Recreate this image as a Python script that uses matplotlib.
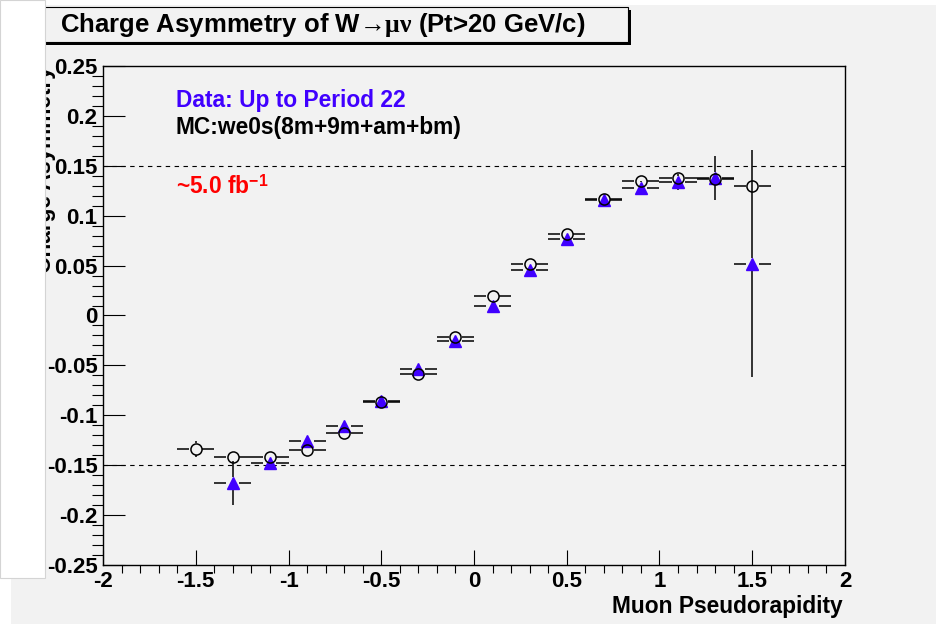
import numpy as np
import matplotlib
matplotlib.use("Agg")
import matplotlib.pyplot as plt
import matplotlib.ticker as mticker
from matplotlib.patches import Rectangle

plt.rcParams["font.family"] = ["Liberation Sans", "DejaVu Sans"]
plt.rcParams["font.weight"] = "bold"
plt.rcParams["mathtext.fontset"] = "custom"
plt.rcParams["mathtext.rm"] = "Liberation Sans:bold"
plt.rcParams["mathtext.bf"] = "Liberation Sans:bold"
plt.rcParams["mathtext.it"] = "Liberation Serif"
plt.rcParams["mathtext.sf"] = "Liberation Serif"

BG    = "#f2f2f2"
BLUE  = "#4000ff"
W, H  = 936, 625

# ── data ────────────────────────────────────────────────────────────────
eta      = [-1.5, -1.3, -1.1, -0.9, -0.7, -0.5, -0.3, -0.1,
            0.1, 0.3, 0.5, 0.7, 0.9, 1.1, 1.3, 1.5]
mc_asym  = [-0.134, -0.142, -0.142, -0.135, -0.118, -0.087, -0.059, -0.022,
            0.020, 0.052, 0.082, 0.117, 0.135, 0.138, 0.137, 0.130]
mc_err   = [0.008, 0.004, 0.004, 0.004, 0.004, 0.004, 0.004, 0.004,
            0.004, 0.004, 0.004, 0.004, 0.004, 0.004, 0.005, 0.006]

data_eta  = [-1.3, -1.1, -0.9, -0.7, -0.5, -0.3, -0.1,
             0.1, 0.3, 0.5, 0.7, 0.9, 1.1, 1.3, 1.5]
data_asym = [-0.168, -0.148, -0.126, -0.111, -0.086, -0.054, -0.026,
             0.010, 0.046, 0.077, 0.116, 0.128, 0.134, 0.138, 0.052]
data_err  = [0.022, 0.005, 0.005, 0.005, 0.005, 0.005, 0.005,
             0.005, 0.005, 0.005, 0.006, 0.007, 0.008, 0.022, 0.114]

half_bin = 0.1


def fx(px):
    return px / W


def fy(py):
    return 1 - py / H


def draw_errors(ax, x, y, yerr, gx, gy, color="black", lw=1.1, z=3):
    # ROOT-style error bars: leave a gap where the marker sits
    x, y, yerr = map(np.asarray, (x, y, yerr))
    ax.hlines(y, x - half_bin, x - gx, color=color, lw=lw, zorder=z)
    ax.hlines(y, x + gx, x + half_bin, color=color, lw=lw, zorder=z)
    m = yerr > gy
    ax.vlines(x[m], y[m] + gy, y[m] + yerr[m], color=color, lw=lw, zorder=z)
    ax.vlines(x[m], y[m] - yerr[m], y[m] - gy, color=color, lw=lw, zorder=z)


fig = plt.figure(figsize=(W / 100, H / 100), dpi=100, facecolor="white")

# canvas background
fig.add_artist(Rectangle((fx(11), fy(624)), fx(925), 619 / H,
                         transform=fig.transFigure, facecolor=BG,
                         edgecolor="none", zorder=-5))

ax = fig.add_axes([fx(103), fy(565), fx(742), 499 / H])
ax.set_facecolor(BG)
ax.set_xlim(-2, 2)
ax.set_ylim(-0.25, 0.25)

for sp in ax.spines.values():
    sp.set_color("black")
    sp.set_linewidth(1.0)

ax.xaxis.set_major_locator(mticker.MultipleLocator(0.5))
ax.xaxis.set_minor_locator(mticker.MultipleLocator(0.1))
ax.yaxis.set_major_locator(mticker.MultipleLocator(0.05))
ax.yaxis.set_minor_locator(mticker.MultipleLocator(0.01))
fmt = mticker.FuncFormatter(lambda v, _: f"{round(v, 3):g}")
ax.xaxis.set_major_formatter(fmt)
ax.yaxis.set_major_formatter(fmt)

ax.tick_params(direction="in", top=False, right=False, labelsize=16,
               colors="black", width=0.8, pad=4)
ax.tick_params(axis="x", which="major", length=10.8)
ax.tick_params(axis="x", which="minor", length=5.8, width=0.8)
ax.tick_params(axis="y", which="major", length=16)
ax.tick_params(axis="y", which="minor", length=8, width=0.8)

# reference lines
for yl in (0.15, -0.15):
    ax.axhline(yl, color="black", lw=0.8, linestyle=(0, (4, 4)), zorder=2)

# data (blue triangles) then MC (open circles) on top
gx = 6.5 / 185.5
gy = 0.006
draw_errors(ax, data_eta, data_asym, data_err, gx, gy, z=3)
ax.plot(data_eta, data_asym, linestyle="none", marker="^", ms=9,
        mfc=BLUE, mec=BLUE, zorder=4)
draw_errors(ax, eta, mc_asym, mc_err, gx, gy, z=5)
ax.plot(eta, mc_asym, linestyle="none", marker="o", ms=8,
        mfc="none", mec="black", mew=1.1, zorder=6)

# legend texts
ax.text(-1.607, 0.215, "Data: Up to Period 22", color=BLUE,
        fontsize=16.4, fontweight="bold", va="center", ha="left")
ax.text(-1.607, 0.188, "MC:we0s(8m+9m+am+bm)", color="black",
        fontsize=16.4, fontweight="bold", va="center", ha="left")
ax.text(-1.607, 0.129, r"~5.0 fb$^{-1}$", color="#ff0000",
        fontsize=16.4, fontweight="bold", va="center", ha="left")

# axis titles
fig.text(fx(843), fy(606), "Muon Pseudorapidity", fontsize=16.4,
         fontweight="bold", ha="right", va="center")
fig.text(fx(56), fy(66), "Charge Asymmetry", fontsize=16.4,
         fontweight="bold", rotation=90, ha="right", va="top")

# white pad covering the left edge (cuts the y title)
fig.add_artist(Rectangle((0, fy(578)), fx(45), 578 / H,
                         transform=fig.transFigure, facecolor="white",
                         edgecolor="#d4d4d4", linewidth=0.8, zorder=10))

# title box with shadow
fig.add_artist(Rectangle((fx(41), fy(45)), fx(590), 35 / H,
                         transform=fig.transFigure, facecolor="black",
                         edgecolor="none", zorder=8))
fig.add_artist(Rectangle((fx(38), fy(42)), fx(590), 35 / H,
                         transform=fig.transFigure, facecolor=BG,
                         edgecolor="black", linewidth=0.8, zorder=9))
fig.text(fx(60), fy(25), r"Charge Asymmetry of W$\mathsf{→}\mu\nu$ (Pt>20 GeV/c)",
         fontsize=18.5, fontweight="bold", ha="left", va="center", zorder=11)

fig.savefig("out.png", dpi=100, facecolor="white")
